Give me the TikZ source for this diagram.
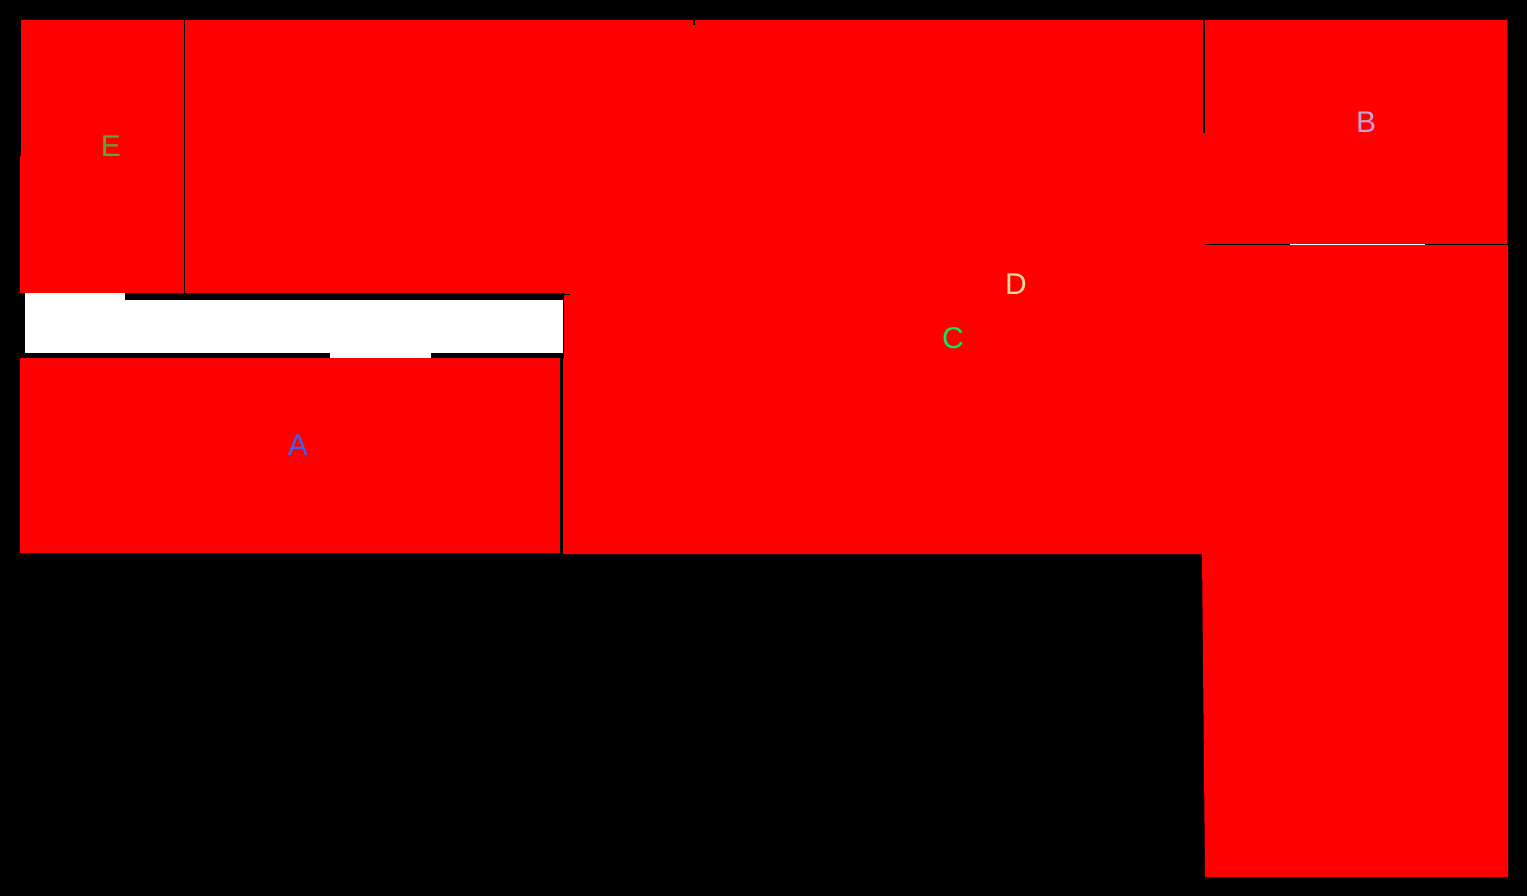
\documentclass[tikz,border=0pt]{standalone}
\usepackage{fontspec}
\setmainfont{Liberation Sans}
\usepackage{xcolor}
\usepackage{tikz}

\definecolor{labE}{RGB}{90,168,60}
\definecolor{labB}{RGB}{200,160,216}
\definecolor{labD}{RGB}{255,216,160}
\definecolor{labC}{RGB}{16,228,96}
\definecolor{labA}{RGB}{64,96,240}

\tikzset{
  lbl/.style={inner sep=0pt, anchor=center, font=\fontsize{30}{30}\selectfont},
  wall/.style={draw=black, line width=1.5pt}
}

\begin{document}
\begin{tikzpicture}[x=1pt,y=-1pt]
\fill[black] (0,0) rectangle (1527,896);
% rooms
\fill[red] (21,20) -- (1507,20) -- (1507,245) -- (1508,245) -- (1508,877) -- (1205,877)
  -- (1202,554) -- (563,554) -- (563,295) -- (20,294) -- (20,156) -- (21,156) -- cycle;
\fill[red] (20,358) rectangle (560,553);
% corridor
\fill[black] (20,293) rectangle (564,358);
\fill[black] (564,294) rectangle (570,295);
\fill[white] (25,300) rectangle (563,353);
\fill[white] (25,293) rectangle (125,300);
\fill[white] (330,353) rectangle (431,358);
\fill[black] (560,353) rectangle (563,553);
% partitions
\draw[wall] (184.5,20) -- (184.5,293);
\draw[wall] (1204,20) -- (1204,133);
\draw[black, line width=2pt] (694,20) -- (694,25);
\draw[black, line width=1pt] (1205,245) -- (1290,245);
\draw[white, line width=1pt] (1290,245) -- (1425,245);
\draw[black, line width=1pt] (1425,245) -- (1507,245);
% labels
\node[lbl, text=labE] (nE) at (111,146) {E};
\node[lbl, text=labB] (nB) at (1366,122) {B};
\node[lbl, text=labD] (nD) at (1016,284) {D};
\node[lbl, text=labC] (nC) at (953,338) {C};
\node[lbl, text=labA] (nA) at (298,445) {A};
\end{tikzpicture}
\end{document}
